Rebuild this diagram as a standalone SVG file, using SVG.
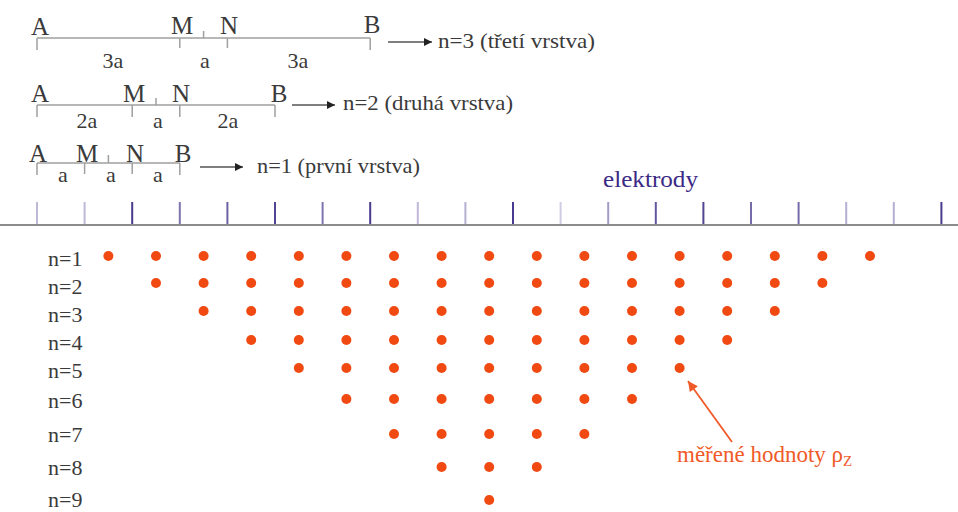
<svg xmlns="http://www.w3.org/2000/svg" width="958" height="512" viewBox="0 0 958 512">
<style>
.t{font-family:'Liberation Serif','Times New Roman','DejaVu Serif',serif;fill:#3a3a3a;font-size:22px}
.L{font-size:25px}
.c{text-anchor:middle}
.ln{stroke:#a0a0a0;stroke-width:1.5;fill:none}
.ar{stroke:#555;stroke-width:1.5;fill:none}
.el{stroke:#4a3a8e;stroke-width:2}
.d{fill:#f04a12}
.or{font-family:'Liberation Serif','Times New Roman','DejaVu Serif',serif;fill:#f05a28;font-size:23px}
</style>
<defs>
<marker id="ah" viewBox="0 0 10 10" refX="10" refY="5" markerWidth="14" markerHeight="8" markerUnits="userSpaceOnUse" orient="auto"><path d="M0,0 L10,5 L0,10 Z" fill="#222"/></marker>
<marker id="ao" viewBox="0 0 10 10" refX="10" refY="5" markerWidth="14" markerHeight="10" markerUnits="userSpaceOnUse" orient="auto"><path d="M0,0 L10,5 L0,10 Z" fill="#f05a28"/></marker>
</defs>

<g id="config-n3">
<path class="ln" d="M37,38 H370.2 M37,38 V50 M179.8,38 V48 M203.6,38 V31 M227.4,38 V48 M370.2,38 V50"/>
<text class="t L c" x="40" y="35">A</text>
<text class="t L c" x="182" y="34">M</text>
<text class="t L c" x="229" y="34">N</text>
<text class="t L c" x="372" y="33">B</text>
<text class="t c" x="113" y="68">3a</text>
<text class="t c" x="205" y="68">a</text>
<text class="t c" x="298" y="68">3a</text>
</g>
<g id="config-n2">
<path class="ln" d="M37,105 H275 M37,105 V117 M132.2,105 V117 M156,105 V98 M179.8,105 V117 M275,105 V117"/>
<text class="t L c" x="40" y="102">A</text>
<text class="t L c" x="134" y="102">M</text>
<text class="t L c" x="181" y="102">N</text>
<text class="t L c" x="279" y="102">B</text>
<text class="t c" x="87" y="128">2a</text>
<text class="t c" x="158" y="128">a</text>
<text class="t c" x="228" y="128">2a</text>
</g>
<g id="config-n1">
<path class="ln" d="M37,163 H179.8 M37,163 V175 M84.6,163 V174 M108.4,163 V155 M132.2,163 V174 M179.8,163 V175"/>
<text class="t L c" x="38" y="162">A</text>
<text class="t L c" x="87" y="162">M</text>
<text class="t L c" x="135" y="162">N</text>
<text class="t L c" x="183" y="162">B</text>
<text class="t c" x="63" y="182">a</text>
<text class="t c" x="111" y="182">a</text>
<text class="t c" x="158" y="182">a</text>
</g>

<g id="connectors">
<line class="ar" x1="388" y1="42" x2="432" y2="42" marker-end="url(#ah)"/>
<line class="ar" x1="292" y1="105" x2="335" y2="105" marker-end="url(#ah)"/>
<line class="ar" x1="200" y1="167" x2="243" y2="167" marker-end="url(#ah)"/>
<line x1="732" y1="442" x2="688" y2="381" stroke="#f05a28" stroke-width="1.8" marker-end="url(#ao)"/>
</g>

<g id="labels-n">
<text class="t" x="438" y="48" textLength="157" lengthAdjust="spacingAndGlyphs">n=3 (třetí vrstva)</text>
<text class="t" x="343" y="110" textLength="170" lengthAdjust="spacingAndGlyphs">n=2 (druhá vrstva)</text>
<text class="t" x="257" y="173" textLength="163" lengthAdjust="spacingAndGlyphs">n=1 (první vrstva)</text>
</g>

<g id="electrodes">
<line x1="0" y1="225" x2="958" y2="225" stroke="#8c8c8c" stroke-width="2"/>
<g class="el">
<line x1="37" y1="202" x2="37" y2="224" opacity="0.35"/>
<line x1="84.6" y1="202" x2="84.6" y2="224" opacity="0.35"/>
<line x1="132.2" y1="202" x2="132.2" y2="224" opacity="1"/>
<line x1="179.8" y1="202" x2="179.8" y2="224" opacity="0.7"/>
<line x1="227.4" y1="202" x2="227.4" y2="224" opacity="0.8"/>
<line x1="275" y1="202" x2="275" y2="224" opacity="0.95"/>
<line x1="322.6" y1="202" x2="322.6" y2="224" opacity="0.7"/>
<line x1="370.2" y1="202" x2="370.2" y2="224" opacity="1"/>
<line x1="417.8" y1="202" x2="417.8" y2="224" opacity="0.35"/>
<line x1="465.4" y1="202" x2="465.4" y2="224" opacity="0.4"/>
<line x1="513" y1="202" x2="513" y2="224" opacity="1"/>
<line x1="560.6" y1="202" x2="560.6" y2="224" opacity="0.25"/>
<line x1="608.2" y1="202" x2="608.2" y2="224" opacity="0.5"/>
<line x1="655.8" y1="202" x2="655.8" y2="224" opacity="0.85"/>
<line x1="703.4" y1="202" x2="703.4" y2="224" opacity="0.95"/>
<line x1="751" y1="202" x2="751" y2="224" opacity="0.75"/>
<line x1="798.6" y1="202" x2="798.6" y2="224" opacity="0.75"/>
<line x1="846.2" y1="202" x2="846.2" y2="224" opacity="0.4"/>
<line x1="893.8" y1="202" x2="893.8" y2="224" opacity="0.4"/>
<line x1="941.4" y1="202" x2="941.4" y2="224" opacity="1"/>
</g>
<text class="t" x="603" y="187" textLength="95" lengthAdjust="spacingAndGlyphs" style="font-size:23px;fill:#3b2a85">elektrody</text>
</g>

<g id="row-labels">
<text class="t" x="48" y="266">n=1</text>
<text class="t" x="48" y="294">n=2</text>
<text class="t" x="48" y="322">n=3</text>
<text class="t" x="48" y="350">n=4</text>
<text class="t" x="48" y="378">n=5</text>
<text class="t" x="48" y="408">n=6</text>
<text class="t" x="48" y="442">n=7</text>
<text class="t" x="48" y="475">n=8</text>
<text class="t" x="48" y="507">n=9</text>
</g>

<g id="points">
<g transform="translate(0,256)">
<circle class="d" cx="108.4" r="5"/><circle class="d" cx="156" r="5"/><circle class="d" cx="203.6" r="5"/><circle class="d" cx="251.2" r="5"/><circle class="d" cx="298.8" r="5"/><circle class="d" cx="346.4" r="5"/><circle class="d" cx="394" r="5"/><circle class="d" cx="441.6" r="5"/><circle class="d" cx="489.2" r="5"/><circle class="d" cx="536.8" r="5"/><circle class="d" cx="584.4" r="5"/><circle class="d" cx="632" r="5"/><circle class="d" cx="679.6" r="5"/><circle class="d" cx="727.2" r="5"/><circle class="d" cx="774.8" r="5"/><circle class="d" cx="822.4" r="5"/><circle class="d" cx="870" r="5"/>
</g>
<g transform="translate(0,283)">
<circle class="d" cx="156" r="5"/><circle class="d" cx="203.6" r="5"/><circle class="d" cx="251.2" r="5"/><circle class="d" cx="298.8" r="5"/><circle class="d" cx="346.4" r="5"/><circle class="d" cx="394" r="5"/><circle class="d" cx="441.6" r="5"/><circle class="d" cx="489.2" r="5"/><circle class="d" cx="536.8" r="5"/><circle class="d" cx="584.4" r="5"/><circle class="d" cx="632" r="5"/><circle class="d" cx="679.6" r="5"/><circle class="d" cx="727.2" r="5"/><circle class="d" cx="774.8" r="5"/><circle class="d" cx="822.4" r="5"/>
</g>
<g transform="translate(0,311)">
<circle class="d" cx="203.6" r="5"/><circle class="d" cx="251.2" r="5"/><circle class="d" cx="298.8" r="5"/><circle class="d" cx="346.4" r="5"/><circle class="d" cx="394" r="5"/><circle class="d" cx="441.6" r="5"/><circle class="d" cx="489.2" r="5"/><circle class="d" cx="536.8" r="5"/><circle class="d" cx="584.4" r="5"/><circle class="d" cx="632" r="5"/><circle class="d" cx="679.6" r="5"/><circle class="d" cx="727.2" r="5"/><circle class="d" cx="774.8" r="5"/>
</g>
<g transform="translate(0,340)">
<circle class="d" cx="251.2" r="5"/><circle class="d" cx="298.8" r="5"/><circle class="d" cx="346.4" r="5"/><circle class="d" cx="394" r="5"/><circle class="d" cx="441.6" r="5"/><circle class="d" cx="489.2" r="5"/><circle class="d" cx="536.8" r="5"/><circle class="d" cx="584.4" r="5"/><circle class="d" cx="632" r="5"/><circle class="d" cx="679.6" r="5"/><circle class="d" cx="727.2" r="5"/>
</g>
<g transform="translate(0,368)">
<circle class="d" cx="298.8" r="5"/><circle class="d" cx="346.4" r="5"/><circle class="d" cx="394" r="5"/><circle class="d" cx="441.6" r="5"/><circle class="d" cx="489.2" r="5"/><circle class="d" cx="536.8" r="5"/><circle class="d" cx="584.4" r="5"/><circle class="d" cx="632" r="5"/><circle class="d" cx="679.6" r="5"/>
</g>
<g transform="translate(0,399)">
<circle class="d" cx="346.4" r="5"/><circle class="d" cx="394" r="5"/><circle class="d" cx="441.6" r="5"/><circle class="d" cx="489.2" r="5"/><circle class="d" cx="536.8" r="5"/><circle class="d" cx="584.4" r="5"/><circle class="d" cx="632" r="5"/>
</g>
<g transform="translate(0,434)">
<circle class="d" cx="394" r="5"/><circle class="d" cx="441.6" r="5"/><circle class="d" cx="489.2" r="5"/><circle class="d" cx="536.8" r="5"/><circle class="d" cx="584.4" r="5"/>
</g>
<g transform="translate(0,467)">
<circle class="d" cx="441.6" r="5"/><circle class="d" cx="489.2" r="5"/><circle class="d" cx="536.8" r="5"/>
</g>
<g transform="translate(0,500)">
<circle class="d" cx="489.2" r="5"/>
</g>
</g>

<g id="annotation">
<text class="or" x="677" y="462">měřené hodnoty ρ<tspan font-size="15" dy="4">Z</tspan></text>
</g>
</svg>
